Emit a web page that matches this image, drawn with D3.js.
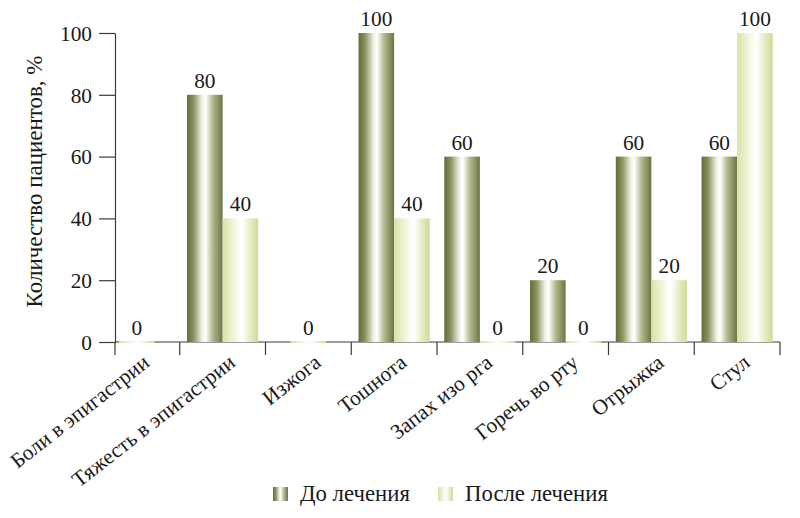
<!DOCTYPE html>
<html>
<head>
<meta charset="utf-8">
<script src="https://cdn.jsdelivr.net/npm/d3@7"></script>
</head>
<body style="margin:0">
<svg id="chart" width="800" height="518"></svg>
<script>
// ---- data ----
const categories = ["Боли в эпигастрии", "Тяжесть в эпигастрии", "Изжога", "Тошнота",
                    "Запах изо рга", "Горечь во рту", "Отрыжка", "Стул"];
const beforeValues = [null, 80, null, 100, 60, 20, 60, 60];
const afterValues  = [0, 40, 0, 40, 0, 0, 20, 100];
const seriesNames  = ["До лечения", "После лечения"];
const yTicks       = [0, 20, 40, 60, 80, 100];
const yTitle       = "Количество пациентов, %";

// ---- layout ----
const INK = "#1a1a1a";
const axisX = 115;
const svg = d3.select("#chart");

function styleText(sel, size) {
  return sel.attr("font-family", "Liberation Serif")
    .style("font-family", "'Liberation Serif', serif", "important")
    .style("font-size", size + "px", "important")
    .attr("fill", INK);
}
// size a text style so that a sample string spans the width measured on the reference
function fitSize(sample, targetWidth, base) {
  const t = styleText(svg.append("text").text(sample), base);
  const len = t.node().getComputedTextLength();
  t.remove();
  return len > 0 ? base * targetWidth / len : base;
}

const y = d3.scaleLinear().domain([0, 100]).range([342, 33]);
const x = d3.scaleBand().domain(categories).range([94, 780]).padding(0);
const barW = x.bandwidth() * 0.415;

// gradients
const defs = svg.append("defs");
const gradSpecs = [
  { id: "gBefore", stops: [[0, "#646c3b"], [0.18, "#8a915d"], [0.42, "#eef0e2"], [0.52, "#ffffff"], [0.72, "#b4b98e"], [1, "#6c7442"]] },
  { id: "gAfter",  stops: [[0, "#d9e2a9"], [0.2, "#e8eec8"], [0.45, "#fbfcf4"], [0.55, "#ffffff"], [0.8, "#e4eabf"], [1, "#d0da99"]] }
];
gradSpecs.forEach(g => {
  const lg = defs.append("linearGradient").attr("id", g.id)
    .attr("x1", "0%").attr("x2", "100%").attr("y1", "0%").attr("y2", "0%");
  g.stops.forEach(s => lg.append("stop").attr("offset", s[0]).attr("stop-color", s[1]));
});
const fills = ["url(#gBefore)", "url(#gAfter)"];

const numSize = fitSize("100", 32, 21);
const catSize = Math.min(24, fitSize(categories[1], 200, 22));
const titleSize = Math.min(26, fitSize(yTitle, 252, 24));
const legSize = Math.min(26, fitSize(seriesNames[1], 143, 24));

// ---- y axis ----
const yAxis = d3.axisLeft(y).tickValues(yTicks).tickSize(16).tickPadding(7).tickSizeOuter(0);
const gy = svg.append("g").attr("transform", `translate(${axisX},0)`).call(yAxis);
gy.attr("font-family", "Liberation Serif");
styleText(gy.selectAll("text").attr("dy", "0.34em"), numSize);
gy.selectAll("line, path").attr("stroke", "#3a3a3a").attr("stroke-width", 1.2);

// x baseline and boundary ticks
const xEnd = x.range()[1];
svg.append("line").attr("x1", axisX).attr("x2", xEnd).attr("y1", y(0)).attr("y2", y(0))
  .attr("stroke", "#3a3a3a").attr("stroke-width", 1.2);
const boundaries = [axisX].concat(categories.map(c => x(c) + x.bandwidth()).filter(v => v > axisX));
svg.selectAll(".bt").data(boundaries).join("line").attr("class", "bt")
  .attr("x1", d => d).attr("x2", d => d).attr("y1", y(0)).attr("y2", y(0) + 13)
  .attr("stroke", "#3a3a3a").attr("stroke-width", 1.2);

// ---- bars ----
const groups = categories.map((c, i) => {
  const vals = [beforeValues[i], afterValues[i]];
  const present = [0, 1].filter(k => vals[k] !== null);
  const center = x(c) + x.bandwidth() / 2;
  const sub = d3.scaleBand().domain(present)
    .range([center - present.length * barW / 2, center + present.length * barW / 2]);
  return present.map(k => ({ cat: c, k, v: vals[k], x0: sub(k), w: sub.bandwidth() }));
}).flat();

svg.selectAll(".bar").data(groups).join("rect").attr("class", "bar")
  .attr("x", d => d.x0).attr("width", d => d.w)
  .attr("y", d => d.v > 0 ? y(d.v) : y(0) - 1)
  .attr("height", d => d.v > 0 ? y(0) - y(d.v) : 2)
  .attr("fill", d => fills[d.k]);

styleText(svg.selectAll(".val").data(groups).join("text").attr("class", "val")
  .attr("x", d => d.x0 + d.w / 2).attr("y", d => y(d.v) - 7)
  .attr("text-anchor", "middle")
  .text(d => d.v), numSize);

// ---- category labels ----
styleText(svg.selectAll(".cat").data(categories).join("text").attr("class", "cat")
  .attr("transform", c => `translate(${x(c) + x.bandwidth() / 2 + 14},${365}) rotate(-38)`)
  .attr("text-anchor", "end")
  .text(c => c), catSize);

// ---- y title ----
styleText(svg.append("text").attr("transform", `translate(42,${(y(0) + y(100)) / 2 - 6}) rotate(-90)`)
  .attr("text-anchor", "middle").text(yTitle), titleSize);

// ---- legend ----
const legendX = [273, 438];
const lg = svg.selectAll(".leg").data(seriesNames).join("g").attr("class", "leg")
  .attr("transform", (d, i) => `translate(${legendX[i]},487)`);
lg.append("rect").attr("width", 15).attr("height", 14).attr("fill", (d, i) => fills[i]);
styleText(lg.append("text").attr("x", 27).attr("y", 14).text(d => d), legSize);
</script>
</body>
</html>
